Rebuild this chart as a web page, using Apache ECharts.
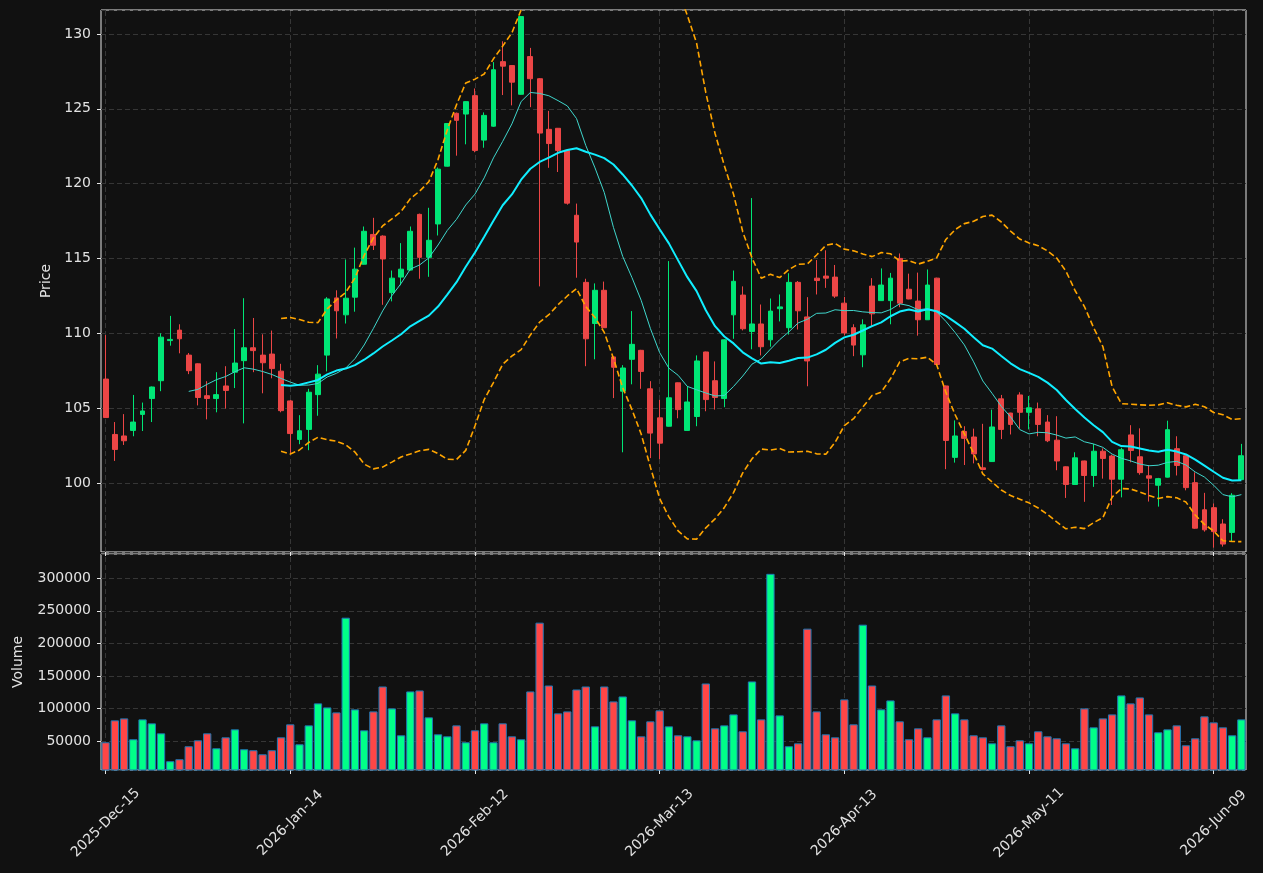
<!DOCTYPE html>
<html>
<head>
<meta charset="utf-8">
<script src="https://cdn.jsdelivr.net/npm/echarts@6/dist/echarts.min.js"></script>
<style>
  html, body { margin: 0; padding: 0; background: #111111; }
  #chart { width: 1263px; height: 873px; }
</style>
</head>
<body>
<div id="chart"></div>
<script>
// trading days shown on the chart
const dates = [
  '2025-12-15','2025-12-16','2025-12-17','2025-12-18','2025-12-19','2025-12-22','2025-12-23','2025-12-24','2025-12-26','2025-12-29','2025-12-30','2025-12-31',
  '2026-01-02','2026-01-05','2026-01-06','2026-01-07','2026-01-08','2026-01-09','2026-01-12','2026-01-13','2026-01-14','2026-01-15','2026-01-16','2026-01-20',
  '2026-01-21','2026-01-22','2026-01-23','2026-01-26','2026-01-27','2026-01-28','2026-01-29','2026-01-30',
  '2026-02-02','2026-02-03','2026-02-04','2026-02-05','2026-02-06','2026-02-09','2026-02-10','2026-02-11','2026-02-12','2026-02-13','2026-02-17','2026-02-18',
  '2026-02-19','2026-02-20','2026-02-23','2026-02-24','2026-02-25','2026-02-26','2026-02-27',
  '2026-03-02','2026-03-03','2026-03-04','2026-03-05','2026-03-06','2026-03-09','2026-03-10','2026-03-11','2026-03-12','2026-03-13','2026-03-16','2026-03-17',
  '2026-03-18','2026-03-19','2026-03-20','2026-03-23','2026-03-24','2026-03-25','2026-03-26','2026-03-27','2026-03-30','2026-03-31',
  '2026-04-01','2026-04-02','2026-04-06','2026-04-07','2026-04-08','2026-04-09','2026-04-10','2026-04-13','2026-04-14','2026-04-15','2026-04-16','2026-04-17',
  '2026-04-20','2026-04-21','2026-04-22','2026-04-23','2026-04-24','2026-04-27','2026-04-28','2026-04-29','2026-04-30',
  '2026-05-01','2026-05-04','2026-05-05','2026-05-06','2026-05-07','2026-05-08','2026-05-11','2026-05-12','2026-05-13','2026-05-14','2026-05-15','2026-05-18',
  '2026-05-19','2026-05-20','2026-05-21','2026-05-22','2026-05-26','2026-05-27','2026-05-28','2026-05-29',
  '2026-06-01','2026-06-02','2026-06-03','2026-06-04','2026-06-05','2026-06-08','2026-06-09','2026-06-10','2026-06-11','2026-06-12'
];

const opens = [
  106.95, 103.25, 103.15, 103.52, 104.59, 105.65, 106.84, 109.52, 110.22, 108.55,
  107.97, 105.84, 105.65, 106.49, 107.41, 108.18, 109.04, 108.55, 108.62, 107.48,
  105.49, 102.92, 103.59, 105.91, 108.55, 112.37, 111.24, 112.42, 114.62, 116.61,
  116.50, 112.72, 113.76, 114.23, 117.95, 115.08, 117.31, 121.17, 124.70, 124.65,
  125.88, 122.91, 123.84, 128.15, 127.89, 125.97, 128.49, 127.01, 123.63, 123.70,
  122.22, 117.89, 113.41, 110.66, 112.88, 108.43, 106.14, 108.27, 108.87, 106.30,
  104.36, 103.80, 106.70, 103.52, 104.45, 108.76, 106.84, 105.65, 111.24, 112.56,
  110.13, 110.63, 109.57, 111.65, 110.38, 113.41, 111.10, 113.69, 113.83, 113.76,
  112.02, 110.38, 108.57, 113.16, 112.19, 112.19, 115.01, 112.95, 112.16, 110.91,
  113.69, 106.49, 101.72, 103.45, 103.08, 101.02, 101.44, 105.63, 104.68, 105.89,
  104.73, 104.96, 104.08, 102.87, 101.09, 99.91, 101.48, 100.51, 102.13, 101.81,
  100.26, 103.22, 101.76, 100.49, 99.86, 100.40, 102.30, 101.83, 100.03, 98.22,
  98.36, 97.27, 96.71, 100.23
];

const highs = [
  109.89, 104.08, 104.61, 105.89, 105.38, 106.45, 110.01, 111.17, 110.61, 108.69,
  108.00, 106.81, 107.41, 107.81, 110.29, 112.35, 111.03, 109.94, 110.19, 107.97,
  105.55, 104.54, 106.30, 107.88, 112.42, 112.88, 114.94, 115.73, 117.14, 117.72,
  116.55, 114.20, 116.03, 117.14, 118.00, 118.39, 121.08, 124.05, 124.75, 125.50,
  126.36, 124.76, 128.12, 129.51, 127.92, 131.20, 129.07, 127.05, 124.86, 123.72,
  122.25, 118.67, 113.65, 113.34, 113.46, 108.45, 107.88, 111.49, 108.90, 106.81,
  105.56, 114.83, 106.72, 106.49, 108.53, 108.78, 108.13, 109.60, 114.20, 113.14,
  119.04, 111.93, 112.33, 112.60, 114.02, 113.50, 112.42, 114.90, 115.55, 114.57,
  112.44, 110.61, 110.94, 113.69, 114.34, 114.04, 115.34, 113.99, 114.06, 114.27,
  113.72, 106.52, 104.19, 103.80, 103.64, 103.96, 104.91, 105.89, 104.70, 106.07,
  105.82, 105.38, 104.54, 104.47, 101.12, 102.06, 101.50, 102.62, 102.32, 101.90,
  102.36, 103.87, 103.66, 101.21, 100.35, 104.17, 103.13, 101.85, 100.72, 99.35,
  98.64, 97.59, 99.33, 102.62
];

const lows = [
  104.38, 101.48, 102.55, 103.13, 103.48, 104.08, 106.14, 109.18, 108.67, 107.28,
  105.19, 104.26, 104.73, 104.98, 106.35, 103.99, 107.41, 106.00, 107.00, 104.73,
  102.02, 102.60, 102.20, 104.50, 107.46, 109.66, 110.66, 111.45, 114.60, 115.57,
  111.91, 112.14, 113.21, 114.20, 113.65, 113.78, 116.54, 121.15, 121.87, 122.63,
  122.10, 122.40, 123.80, 125.92, 125.23, 125.95, 125.11, 113.14, 121.06, 120.78,
  118.60, 113.72, 107.81, 108.27, 110.38, 105.68, 102.06, 106.60, 106.30, 101.67,
  101.60, 103.78, 104.33, 103.50, 103.80, 104.80, 104.91, 105.07, 109.64, 110.20,
  108.94, 108.53, 109.11, 110.80, 109.92, 110.26, 106.47, 112.60, 113.04, 112.37,
  109.87, 108.48, 107.74, 110.50, 112.17, 110.61, 111.75, 112.28, 109.85, 110.90,
  107.90, 100.93, 101.37, 101.21, 101.32, 100.85, 101.42, 102.94, 103.25, 103.64,
  103.59, 103.13, 102.74, 100.86, 99.01, 99.89, 98.75, 99.75, 100.30, 98.54,
  99.05, 101.39, 100.56, 98.77, 98.43, 100.38, 100.51, 99.52, 96.95, 96.76,
  95.69, 95.76, 96.11, 100.21
];

const closes = [
  104.38, 102.25, 102.83, 104.08, 104.82, 106.42, 109.75, 109.60, 109.64, 107.51,
  105.72, 105.65, 105.91, 106.19, 108.02, 109.04, 108.85, 108.04, 107.65, 104.84,
  103.31, 103.50, 106.07, 107.28, 112.30, 111.51, 112.35, 114.29, 116.82, 115.89,
  114.97, 113.69, 114.29, 116.82, 115.08, 116.22, 120.97, 124.02, 124.23, 125.48,
  122.22, 124.56, 127.61, 127.85, 126.78, 131.16, 127.01, 123.38, 122.68, 122.22,
  118.70, 116.10, 109.64, 112.88, 110.38, 107.74, 107.69, 109.27, 107.46, 103.34,
  102.67, 105.70, 104.91, 105.42, 108.16, 105.58, 105.72, 109.57, 113.48, 110.31,
  110.63, 109.11, 111.49, 111.77, 113.41, 111.51, 108.16, 113.53, 113.69, 112.49,
  110.03, 109.22, 110.57, 111.31, 113.23, 113.69, 112.02, 112.30, 110.91, 113.23,
  107.92, 102.85, 103.15, 102.99, 101.95, 100.91, 103.75, 103.59, 103.92, 104.73,
  105.03, 103.92, 102.83, 101.48, 99.91, 101.69, 100.51, 102.13, 101.65, 100.26,
  102.23, 102.18, 100.70, 100.33, 100.30, 103.57, 101.18, 99.70, 96.99, 96.88,
  96.76, 95.93, 99.19, 101.83
];

const volumes = [
  48500, 82100, 85100, 53100, 83600, 77500, 62200, 19500, 22500, 42400,
  51500, 62200, 39300, 56100, 68300, 37800, 36300, 30100, 36300, 56100,
  76000, 45400, 74400, 108100, 101900, 94300, 239400, 98900, 66800, 95800,
  134000, 100400, 59200, 126400, 127900, 86700, 60700, 57600, 74400, 48500,
  66800, 77500, 48500, 77500, 57600, 53100, 126400, 231800, 135500, 92800,
  95800, 129400, 134000, 72900, 134000, 111100, 118700, 82100, 57600, 80600,
  97400, 72900, 59200, 57600, 51500, 138600, 69900, 74400, 91200, 65300,
  141700, 83600, 306600, 89700, 42400, 46900, 222600, 95800, 60700, 56100,
  114200, 76000, 228700, 135500, 98900, 112600, 80600, 53100, 69900, 56100,
  83600, 120300, 92800, 83600, 59200, 56100, 46900, 74400, 42400, 51500,
  46900, 65300, 57600, 54600, 46900, 39300, 100400, 71400, 85100, 91200,
  120300, 108100, 117200, 91200, 63800, 68300, 74400, 43900, 54600, 88200,
  79000, 71400, 59200, 83600
];

const tickLabels = ['2025-Dec-15', '2026-Jan-14', '2026-Feb-12', '2026-Mar-13', '2026-Apr-13', '2026-May-11', '2026-Jun-09'];

const MONTHS = ['Jan','Feb','Mar','Apr','May','Jun','Jul','Aug','Sep','Oct','Nov','Dec'];
const fmtDate = (d) => {
  const [y, m, day] = d.split('-');
  return `${y}-${MONTHS[+m - 1]}-${day}`;
};
const tickDates = dates.filter((d) => tickLabels.includes(fmtDate(d)));

// rolling indicators from the closes
const rollingMean = (values, n) =>
  values.map((_, i) => {
    if (i < n - 1) return '-';
    let sum = 0;
    for (let k = i - n + 1; k <= i; k++) sum += values[k];
    return sum / n;
  });

const rollingBand = (values, n, mult, sign) =>
  values.map((_, i) => {
    if (i < n - 1) return '-';
    const win = values.slice(i - n + 1, i + 1);
    const mean = win.reduce((a, b) => a + b, 0) / n;
    const variance = win.reduce((a, b) => a + (b - mean) * (b - mean), 0) / n;
    return mean + sign * mult * Math.sqrt(variance);
  });

const ma10 = rollingMean(closes, 10);
const ma20 = rollingMean(closes, 20);
const bbUpper = rollingBand(closes, 20, 2, 1);
const bbLower = rollingBand(closes, 20, 2, -1);

const UP = '#00e676';
const DOWN = '#ec4646';
const VOL_UP = '#00ff88';
const VOL_DOWN = '#ff4646';
const TEXT = '#e2e2e2';
const GRID = '#363636';
const FRAME = '#e6e6e6';
const FONT = 'DejaVu Sans';

const chart = echarts.init(document.getElementById('chart'));

const xAxisBase = (gridIndex, showLabels) => ({
  type: 'category',
  gridIndex,
  data: dates,
  boundaryGap: true,
  axisLine: { show: false },
  axisTick: {
    show: true,
    alignWithLabel: true,
    interval: (idx, val) => tickDates.includes(val),
    length: 4,
    lineStyle: { color: FRAME }
  },
  axisLabel: {
    show: showLabels,
    interval: (idx, val) => tickDates.includes(val),
    formatter: (val) => fmtDate(val),
    rotate: 45,
    align: 'center',
    verticalAlign: 'middle',
    margin: 53,
    color: TEXT,
    fontFamily: FONT,
    fontSize: 14
  },
  splitLine: { show: false }
});

const yAxisBase = (gridIndex, min, max, step, name, nameGap) => ({
  type: 'value',
  gridIndex,
  min,
  max,
  splitNumber: 7,
  minInterval: step,
  maxInterval: step,
  name,
  nameLocation: 'middle',
  nameGap,
  nameTextStyle: { color: TEXT, fontFamily: FONT, fontSize: 14 },
  axisLine: { show: false },
  axisTick: { show: true, length: 4, lineStyle: { color: FRAME } },
  axisLabel: {
    color: TEXT,
    fontFamily: FONT,
    fontSize: 14,
    margin: 10,
    showMinLabel: false,
    showMaxLabel: false,
    formatter: (v) => (Math.abs(v / step - Math.round(v / step)) < 1e-6 ? String(Math.round(v)) : '')
  },
  splitLine: { show: true, lineStyle: { color: GRID, type: [5, 3], width: 1 } }
});

// vertical dashed grid lines at the labelled dates, kept under the marks
const vGridLines = (xi, yi) => ({
  type: 'line',
  xAxisIndex: xi,
  yAxisIndex: yi,
  data: [],
  z: 1,
  silent: true,
  markLine: {
    z: 1,
    silent: true,
    symbol: 'none',
    label: { show: false },
    lineStyle: { color: GRID, type: [5, 3], width: 1 },
    data: tickDates.map((d) => ({ xAxis: d }))
  }
});

const lineSeries = (data, color, width, dashed) => ({
  type: 'line',
  xAxisIndex: 0,
  yAxisIndex: 0,
  data,
  showSymbol: false,
  symbol: 'none',
  z: 4,
  silent: true,
  lineStyle: { color, width, type: dashed ? [6, 3] : 'solid' }
});

const option = {
  backgroundColor: '#111111',
  animation: false,
  grid: [
    { left: 101, right: 17, top: 10, height: 542, show: true, backgroundColor: '#111111', borderColor: FRAME, borderWidth: 1 },
    { left: 101, right: 17, top: 554, height: 216, show: true, backgroundColor: '#111111', borderColor: FRAME, borderWidth: 1 }
  ],
  xAxis: [xAxisBase(0, false), xAxisBase(1, true)],
  yAxis: [
    yAxisBase(0, 95.4, 131.6, 5, 'Price', 46),
    yAxisBase(1, 6000, 337000, 50000, 'Volume', 76)
  ],
  series: [
    vGridLines(0, 0),
    vGridLines(1, 1),
    {
      type: 'candlestick',
      xAxisIndex: 0,
      yAxisIndex: 0,
      z: 3,
      barWidth: '58%',
      data: dates.map((_, i) => [opens[i], closes[i], lows[i], highs[i]]),
      itemStyle: {
        color: UP,
        color0: DOWN,
        borderColor: UP,
        borderColor0: DOWN,
        borderWidth: 1
      }
    },
    lineSeries(ma10, '#3fd6cc', 1, false),
    lineSeries(ma20, '#10eeff', 2, false),
    lineSeries(bbUpper, '#ffa500', 1.6, true),
    lineSeries(bbLower, '#ffa500', 1.6, true),
    {
      type: 'bar',
      xAxisIndex: 1,
      yAxisIndex: 1,
      z: 3,
      barWidth: '90%',
      data: volumes.map((v, i) => ({
        value: v,
        itemStyle: { color: closes[i] >= opens[i] ? VOL_UP : VOL_DOWN }
      })),
      itemStyle: { borderColor: '#1f77b4', borderWidth: 1 }
    }
  ]
};

chart.setOption(option);
</script>
</body>
</html>
